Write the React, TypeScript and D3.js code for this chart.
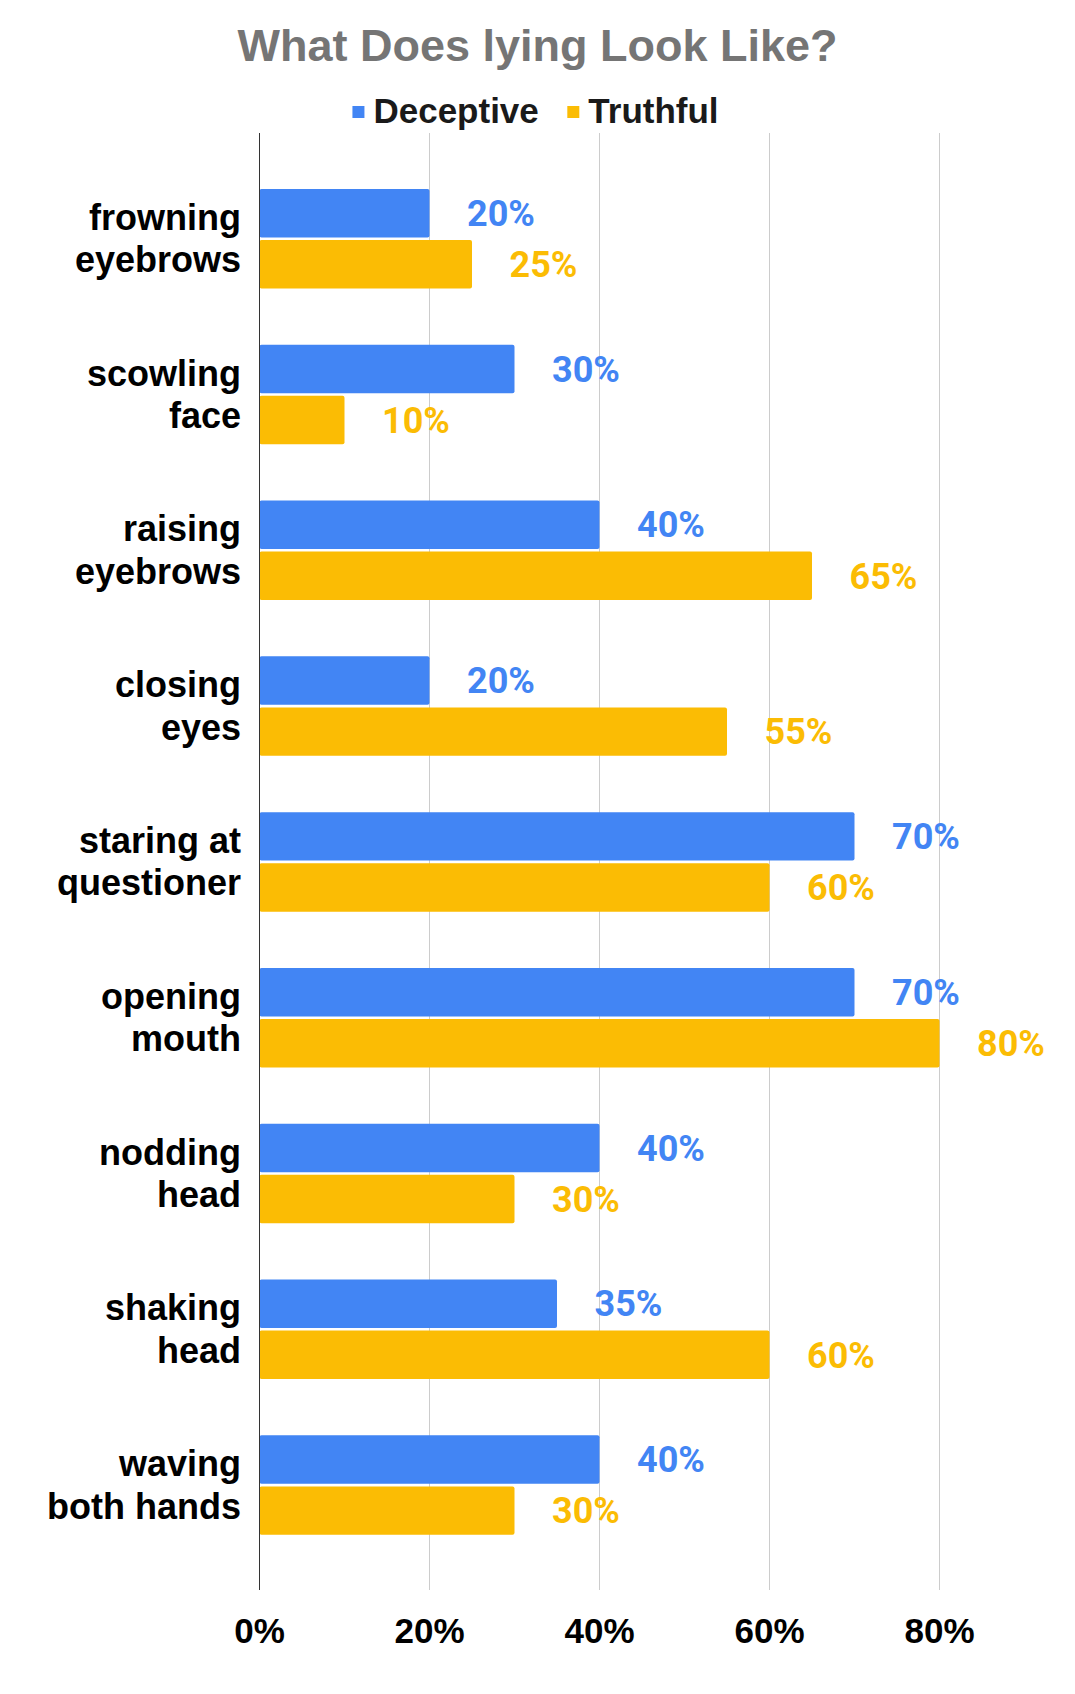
import React, {useEffect, useRef} from 'react';
import * as d3 from 'd3';

// chart data
const categories = [
  'frowning\neyebrows',
  'scowling\nface',
  'raising\neyebrows',
  'closing\neyes',
  'staring at\nquestioner',
  'opening\nmouth',
  'nodding\nhead',
  'shaking\nhead',
  'waving\nboth hands',
];
const series = ['Deceptive', 'Truthful'];
const deceptive = [20, 30, 40, 20, 70, 70, 40, 35, 40];
const truthful = [25, 10, 65, 55, 60, 80, 30, 60, 30];
const xTicks = [0, 20, 40, 60, 80];
const colors = ['#4285F4', '#FBBC04'];

const WIDTH = 1075;
const HEIGHT = 1694;
const ARIAL = '"Liberation Sans", Arial, sans-serif';
const ROBOTO = 'Roboto, "Liberation Sans", sans-serif';

export default function App() {
  const svgRef = useRef<SVGSVGElement>(null);

  useEffect(() => {
    document.body.style.margin = '0';
    if (!svgRef.current) return;
    const svg = d3.select(svgRef.current);
    svg.selectAll('*').remove();

    const plotTop = 133;
    const plotBottom = 1590;

    const x = d3.scaleLinear().domain([0, 80]).range([259.5, 939.5]);
    const y = d3.scaleBand<string>().domain(categories).range([160.8, 1563]);
    const groupH = 99.5;
    const ySub = d3
      .scaleBand<string>()
      .domain(series)
      .range([0, groupH])
      .paddingInner(0.05);

    const values = [deceptive, truthful];

    // title
    svg
      .append('text')
      .attr('x', 537.5)
      .attr('y', 60.7)
      .attr('text-anchor', 'middle')
      .style('font-family', ARIAL)
      .style('font-weight', 700)
      .style('font-size', '45px')
      .attr('fill', '#757575')
      .text('What Does lying Look Like?');

    // legend
    const legend = svg.append('g');
    const items = legend
      .selectAll('g')
      .data(series)
      .join('g');
    items
      .append('rect')
      .attr('width', 12)
      .attr('height', 12)
      .attr('y', 106)
      .attr('fill', (_, i) => colors[i]);
    const legendText = items
      .append('text')
      .attr('y', 122.5)
      .style('font-family', ARIAL)
      .style('font-weight', 700)
      .style('font-size', '35px')
      .attr('fill', '#1a1a1a')
      .text((d) => d);
    const widths: number[] = [];
    legendText.each(function () {
      widths.push((this as SVGTextElement).getComputedTextLength());
    });
    const sq = 12;
    const gapSq = 9;
    const gapItem = 28.5;
    const total =
      widths.reduce((a, w) => a + sq + gapSq + w, 0) +
      gapItem * (series.length - 1);
    let cx = 535.5 - total / 2;
    items.each(function (_, i) {
      d3.select(this).attr('transform', `translate(${cx},0)`);
      d3.select(this).select('text').attr('x', sq + gapSq);
      cx += sq + gapSq + widths[i] + gapItem;
    });

    // gridlines
    svg
      .append('g')
      .selectAll('line')
      .data(xTicks.slice(1))
      .join('line')
      .attr('x1', (d) => x(d))
      .attr('x2', (d) => x(d))
      .attr('y1', plotTop)
      .attr('y2', plotBottom)
      .attr('stroke', '#cccccc')
      .attr('stroke-width', 1);

    // bars
    const groups = svg
      .append('g')
      .selectAll('g')
      .data(categories)
      .join('g')
      .attr(
        'transform',
        (d) => `translate(0,${y(d)! + (y.bandwidth() - groupH) / 2})`,
      );

    groups.each(function (cat, ci) {
      const g = d3.select(this);
      series.forEach((s, si) => {
        const v = values[si][ci];
        g.append('rect')
          .attr('x', x(0))
          .attr('y', ySub(s)!)
          .attr('width', x(v) - x(0))
          .attr('height', ySub.bandwidth())
          .attr('rx', 2)
          .attr('fill', colors[si]);
        g.append('text')
          .attr('x', x(v) + 37.5)
          .attr('y', ySub(s)! + ySub.bandwidth() / 2 + 12.7)
          .style('font-family', ROBOTO)
          .style('font-weight', 700)
          .style('font-size', '36px')
          .attr('fill', colors[si])
          .text(`${v}%`);
      });

      // category label
      const lines = cat.split('\n');
      const center = groupH / 2;
      const label = g
        .append('text')
        .attr('text-anchor', 'end')
        .style('font-family', ARIAL)
        .style('font-weight', 700)
        .style('font-size', '36px')
        .attr('fill', '#000');
      lines.forEach((line, li) => {
        label
          .append('tspan')
          .attr('x', 241)
          .attr('y', center - 9 + li * 42.5)
          .text(line);
      });
    });

    // axis line
    svg
      .append('line')
      .attr('x1', x(0))
      .attr('x2', x(0))
      .attr('y1', plotTop)
      .attr('y2', plotBottom)
      .attr('stroke', '#333333')
      .attr('stroke-width', 1);

    // tick labels
    svg
      .append('g')
      .selectAll('text')
      .data(xTicks)
      .join('text')
      .attr('x', (d) => x(d))
      .attr('y', 1642.7)
      .attr('text-anchor', 'middle')
      .style('font-family', ARIAL)
      .style('font-weight', 700)
      .style('font-size', '35px')
      .attr('fill', '#000')
      .text((d) => `${d}%`);
  }, []);

  return (
    <svg
      ref={svgRef}
      width={WIDTH}
      height={HEIGHT}
      style={{display: 'block', background: '#fff'}}
    />
  );
}
